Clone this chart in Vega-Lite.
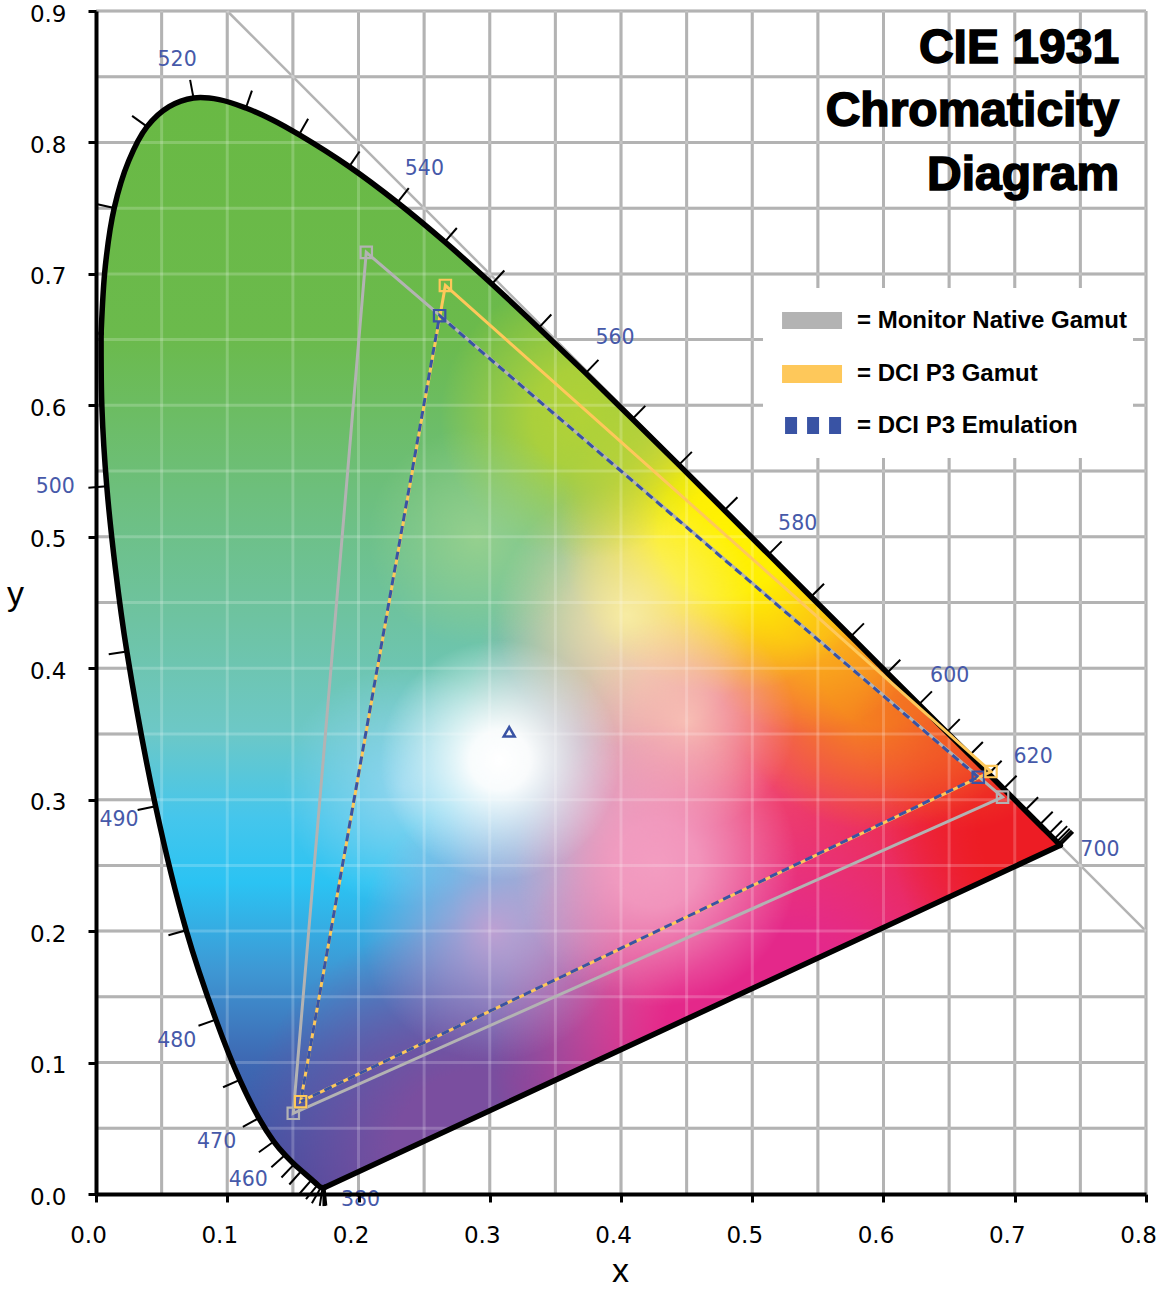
{
"$schema": "https://vega.github.io/schema/vega-lite/v6.json",
"autosize": {"type": "none"},
"padding": {"left": 96, "top": 11, "right": 21, "bottom": 95},
"width": 1050,
"height": 1183,
"background": "white",
"config": {"view": {"stroke": null}, "font": "Liberation Sans"},
"datasets": {
"gx": [{"g":0.05},{"g":0.1},{"g":0.15},{"g":0.2},{"g":0.25},{"g":0.3},{"g":0.35},{"g":0.4},{"g":0.45},{"g":0.5},{"g":0.55},{"g":0.6},{"g":0.65},{"g":0.7},{"g":0.75},{"g":0.8}],
"gy": [{"g":0.05},{"g":0.1},{"g":0.15},{"g":0.2},{"g":0.25},{"g":0.3},{"g":0.35},{"g":0.4},{"g":0.45},{"g":0.5},{"g":0.55},{"g":0.6},{"g":0.65},{"g":0.7},{"g":0.75},{"g":0.8},{"g":0.85},{"g":0.9}],
"locus": [
{"wl":380,"x":0.1741,"y":0.0050},{"wl":390,"x":0.1738,"y":0.0049},{"wl":400,"x":0.1733,"y":0.0048},{"wl":410,"x":0.1726,"y":0.0048},
{"wl":420,"x":0.1714,"y":0.0051},{"wl":430,"x":0.1689,"y":0.0069},{"wl":440,"x":0.1644,"y":0.0109},{"wl":450,"x":0.1566,"y":0.0177},
{"wl":455,"x":0.1510,"y":0.0227},{"wl":460,"x":0.1440,"y":0.0297},{"wl":465,"x":0.1355,"y":0.0399},{"wl":470,"x":0.1241,"y":0.0578},
{"wl":475,"x":0.1096,"y":0.0868},{"wl":480,"x":0.0913,"y":0.1327},{"wl":485,"x":0.0687,"y":0.2007},{"wl":490,"x":0.0454,"y":0.2950},
{"wl":495,"x":0.0235,"y":0.4127},{"wl":497.5,"x":0.0148,"y":0.4756},{"wl":500,"x":0.0082,"y":0.5384},{"wl":502.5,"x":0.0045,"y":0.5985},
{"wl":505,"x":0.0039,"y":0.6548},{"wl":507.5,"x":0.0071,"y":0.7059},{"wl":510,"x":0.0139,"y":0.7502},{"wl":512.5,"x":0.0248,"y":0.7857},
{"wl":515,"x":0.0389,"y":0.8120},{"wl":517.5,"x":0.0557,"y":0.8272},{"wl":520,"x":0.0743,"y":0.8338},{"wl":522.5,"x":0.0939,"y":0.8326},
{"wl":525,"x":0.1142,"y":0.8262},{"wl":527.5,"x":0.1346,"y":0.8171},{"wl":530,"x":0.1547,"y":0.8059},{"wl":535,"x":0.1929,"y":0.7816},
{"wl":540,"x":0.2296,"y":0.7543},{"wl":545,"x":0.2658,"y":0.7243},{"wl":550,"x":0.3016,"y":0.6923},{"wl":555,"x":0.3373,"y":0.6589},
{"wl":560,"x":0.3731,"y":0.6245},{"wl":565,"x":0.4087,"y":0.5896},{"wl":570,"x":0.4441,"y":0.5547},{"wl":575,"x":0.4788,"y":0.5202},
{"wl":580,"x":0.5125,"y":0.4866},{"wl":585,"x":0.5448,"y":0.4544},{"wl":590,"x":0.5752,"y":0.4242},{"wl":595,"x":0.6029,"y":0.3965},
{"wl":600,"x":0.6270,"y":0.3725},{"wl":605,"x":0.6482,"y":0.3514},{"wl":610,"x":0.6658,"y":0.3340},{"wl":615,"x":0.6801,"y":0.3197},
{"wl":620,"x":0.6915,"y":0.3083},{"wl":625,"x":0.7006,"y":0.2993},{"wl":630,"x":0.7079,"y":0.2920},{"wl":635,"x":0.7140,"y":0.2859},
{"wl":640,"x":0.7190,"y":0.2809},{"wl":650,"x":0.7260,"y":0.2740},{"wl":660,"x":0.7300,"y":0.2700},{"wl":670,"x":0.7320,"y":0.2680},
{"wl":680,"x":0.7334,"y":0.2666},{"wl":690,"x":0.7344,"y":0.2656},{"wl":700,"x":0.7347,"y":0.2653}],
"ticks": [
{"x":0.1741,"y":0.0050,"x2":0.1755,"y2":-0.0089},{"x":0.1738,"y":0.0049,"x2":0.1745,"y2":-0.0091},{"x":0.1733,"y":0.0048,"x2":0.1733,"y2":-0.0092},
{"x":0.1726,"y":0.0048,"x2":0.1705,"y2":-0.0091},{"x":0.1714,"y":0.0051,"x2":0.1645,"y2":-0.0071},{"x":0.1689,"y":0.0069,"x2":0.1600,"y2":-0.0039},
{"x":0.1644,"y":0.0109,"x2":0.1552,"y2":0.0004},{"x":0.1566,"y":0.0177,"x2":0.1473,"y2":0.0072},{"x":0.1510,"y":0.0227,"x2":0.1413,"y2":0.0126},
{"x":0.1440,"y":0.0297,"x2":0.1336,"y2":0.0203},{"x":0.1355,"y":0.0399,"x2":0.1241,"y2":0.0318},{"x":0.1241,"y":0.0578,"x2":0.1119,"y2":0.0510},
{"x":0.1096,"y":0.0868,"x2":0.0968,"y2":0.0812},{"x":0.0913,"y":0.1327,"x2":0.0781,"y2":0.1280},{"x":0.0687,"y":0.2007,"x2":0.0552,"y2":0.1969},
{"x":0.0454,"y":0.2950,"x2":0.0317,"y2":0.2921},{"x":0.0235,"y":0.4127,"x2":0.0097,"y2":0.4106},{"x":0.0082,"y":0.5384,"x2":-0.0058,"y2":0.5373},
{"x":0.0139,"y":0.7502,"x2":0.0002,"y2":0.7532},{"x":0.0389,"y":0.8120,"x2":0.0275,"y2":0.8202},
{"x":0.0743,"y":0.8338,"x2":0.0717,"y2":0.8476},{"x":0.1142,"y":0.8262,"x2":0.1188,"y2":0.8394},{"x":0.1547,"y":0.8059,"x2":0.1616,"y2":0.8181},
{"x":0.1929,"y":0.7816,"x2":0.2008,"y2":0.7931},{"x":0.2296,"y":0.7543,"x2":0.2383,"y2":0.7653},{"x":0.2658,"y":0.7243,"x2":0.2749,"y2":0.7349},
{"x":0.3016,"y":0.6923,"x2":0.3111,"y2":0.7026},{"x":0.3373,"y":0.6589,"x2":0.3469,"y2":0.6691},{"x":0.3731,"y":0.6245,"x2":0.3828,"y2":0.6346},
{"x":0.4087,"y":0.5896,"x2":0.4185,"y2":0.5996},{"x":0.4441,"y":0.5547,"x2":0.4540,"y2":0.5646},{"x":0.4788,"y":0.5202,"x2":0.4887,"y2":0.5301},
{"x":0.5125,"y":0.4866,"x2":0.5224,"y2":0.4965},{"x":0.5448,"y":0.4544,"x2":0.5547,"y2":0.4643},{"x":0.5752,"y":0.4242,"x2":0.5851,"y2":0.4341},
{"x":0.6029,"y":0.3965,"x2":0.6128,"y2":0.4064},{"x":0.6270,"y":0.3725,"x2":0.6369,"y2":0.3824},{"x":0.6482,"y":0.3514,"x2":0.6581,"y2":0.3613},
{"x":0.6658,"y":0.3340,"x2":0.6757,"y2":0.3439},{"x":0.6801,"y":0.3197,"x2":0.6900,"y2":0.3296},{"x":0.6915,"y":0.3083,"x2":0.7014,"y2":0.3182},
{"x":0.7079,"y":0.2920,"x2":0.7178,"y2":0.3019},{"x":0.7190,"y":0.2809,"x2":0.7289,"y2":0.2908},{"x":0.7260,"y":0.2740,"x2":0.7359,"y2":0.2839},
{"x":0.7300,"y":0.2700,"x2":0.7399,"y2":0.2799},{"x":0.7320,"y":0.2680,"x2":0.7419,"y2":0.2779},{"x":0.7334,"y":0.2666,"x2":0.7433,"y2":0.2765},
{"x":0.7344,"y":0.2656,"x2":0.7443,"y2":0.2755},{"x":0.7347,"y":0.2653,"x2":0.7446,"y2":0.2752}],
"wlLabels": [
{"t":"380","x":0.2015,"y":-0.0049},{"t":"460","x":0.1160,"y":0.0110},{"t":"470","x":0.0919,"y":0.0392},{"t":"480","x":0.0615,"y":0.1166},
{"t":"490","x":0.0176,"y":0.2848},{"t":"500","x":-0.0310,"y":0.5380},{"t":"520","x":0.0618,"y":0.8624},{"t":"540","x":0.2502,"y":0.7801},
{"t":"560","x":0.3954,"y":0.6514},{"t":"580","x":0.5346,"y":0.5099},{"t":"600","x":0.6504,"y":0.3944},{"t":"620","x":0.7140,"y":0.3322},
{"t":"700","x":0.7649,"y":0.2614}],
"gamut": [
{"series":"Monitor Native Gamut","v":1,"x":0.6907,"y":0.3019},{"series":"Monitor Native Gamut","v":2,"x":0.2059,"y":0.7164},{"series":"Monitor Native Gamut","v":3,"x":0.1503,"y":0.0614},
{"series":"DCI P3 Gamut","v":1,"x":0.6819,"y":0.3214},{"series":"DCI P3 Gamut","v":2,"x":0.2662,"y":0.6912},{"series":"DCI P3 Gamut","v":3,"x":0.1559,"y":0.0702},
{"series":"DCI P3 Emulation","v":1,"x":0.6722,"y":0.3171},{"series":"DCI P3 Emulation","v":2,"x":0.2618,"y":0.6682},{"series":"DCI P3 Emulation","v":3,"x":0.1559,"y":0.0702}],
"whitePoint": [{"x":0.3148,"y":0.3516}],
"diag": [{"x":0.1,"y":0.9,"x2":0.8,"y2":0.2}],
"one": [{}]
},
"layer": [
{"data":{"name":"gx"},"mark":{"type":"rule","color":"#a0a0a0","strokeWidth":3},
 "encoding":{"x":{"field":"g","type":"quantitative","scale":{"domain":[0,0.8],"nice":false,"zero":false}}}},
{"data":{"name":"gy"},"mark":{"type":"rule","color":"#a0a0a0","strokeWidth":3},
 "encoding":{"y":{"field":"g","type":"quantitative","scale":{"domain":[0,0.9],"nice":false,"zero":false}}}},
{"data":{"name":"diag"},"mark":{"type":"rule","color":"#b3b3b3","strokeWidth":2.5},
 "encoding":{"x":{"field":"x","type":"quantitative","scale":{"domain":[0,0.8],"nice":false,"zero":false}},
  "y":{"field":"y","type":"quantitative","scale":{"domain":[0,0.9],"nice":false,"zero":false}},
  "x2":{"field":"x2"},"y2":{"field":"y2"}}},
{"data":{"name":"locus"},
 "mark":{"type":"line","interpolate":"linear-closed","stroke":"transparent","strokeWidth":0,
  "fill":{"gradient":"linear","x1":0,"y1":0,"x2":0,"y2":1,"stops":[
   {"offset":0,"color":"#69b944"},{"offset":0.22,"color":"#6bba4c"},{"offset":0.36,"color":"#6dbf7c"},{"offset":0.48,"color":"#6ec3a2"},
   {"offset":0.58,"color":"#6dc8c6"},{"offset":0.66,"color":"#45c6ec"},{"offset":0.72,"color":"#2bc3f3"},{"offset":0.80,"color":"#3e98d4"},
   {"offset":0.88,"color":"#3e6ab4"},{"offset":1,"color":"#3b4a9c"}]}},
 "encoding":{
  "x":{"field":"x","type":"quantitative","scale":{"domain":[0,0.8],"nice":false,"zero":false},
   "axis":{"title":"x","values":[0,0.1,0.2,0.3,0.4,0.5,0.6,0.7,0.8],"format":".1f","grid":false,"domainColor":"black","domainWidth":4,
    "tickColor":"black","tickWidth":3,"tickSize":8,"labelFont":"DejaVu Sans","labelFontSize":23,"labelColor":"black","labelPadding":22,"labelOffset":-8,
    "labelFlush":false,"labelOverlap":false,"titleFont":"Liberation Sans","titleFontSize":34,"titleFontWeight":"normal","titleColor":"black",
    "titleX":524,"titleY":87,"titleBaseline":"alphabetic","zindex":1}},
  "y":{"field":"y","type":"quantitative","scale":{"domain":[0,0.9],"nice":false,"zero":false},
   "axis":{"title":"y","values":[0,0.1,0.2,0.3,0.4,0.5,0.6,0.7,0.8,0.9],"format":".1f","grid":false,"domainColor":"black","domainWidth":4,
    "tickColor":"black","tickWidth":3,"tickSize":8,"labelFont":"DejaVu Sans","labelFontSize":23,"labelColor":"black","labelPadding":22,
    "labelFlush":false,"labelOverlap":false,"labelOffset":3,"titleFont":"Liberation Sans","titleFontSize":34,"titleFontWeight":"normal","titleColor":"black",
    "titleAngle":0,"titleX":-81,"titleY":583,"titleAlign":"center","titleBaseline":"middle","zindex":1}},
  "order":{"field":"wl","type":"quantitative"}}},
{"data":{"name":"locus"},
 "mark":{"type":"line","interpolate":"linear-closed","stroke":"transparent","strokeWidth":0,
  "fill":{"gradient":"radial","x1":1,"y1":0.68,"r1":0,"x2":1,"y2":0.68,"r2":0.62,"stops":[
   {"offset":0,"color":"rgba(237,28,36,1)"},{"offset":0.3,"color":"rgba(238,40,64,1)"},{"offset":0.55,"color":"rgba(240,74,110,1)"},{"offset":0.75,"color":"rgba(242,138,168,0.85)"},{"offset":1,"color":"rgba(242,160,185,0)"}]}},
 "encoding":{"x":{"field":"x","type":"quantitative","scale":{"domain":[0,0.8],"nice":false,"zero":false}},
  "y":{"field":"y","type":"quantitative","scale":{"domain":[0,0.9],"nice":false,"zero":false}},"order":{"field":"wl","type":"quantitative"}}},
{"data":{"name":"locus"},
 "mark":{"type":"line","interpolate":"linear-closed","stroke":"transparent","strokeWidth":0,
  "fill":{"gradient":"radial","x1":0.405,"y1":0.97,"r1":0,"x2":0.405,"y2":0.97,"r2":0.22,"stops":[
   {"offset":0,"color":"rgba(122,78,159,1)"},{"offset":0.35,"color":"rgba(122,78,159,1)"},{"offset":1,"color":"rgba(122,78,159,0)"}]}},
 "encoding":{"x":{"field":"x","type":"quantitative","scale":{"domain":[0,0.8],"nice":false,"zero":false}},
  "y":{"field":"y","type":"quantitative","scale":{"domain":[0,0.9],"nice":false,"zero":false}},"order":{"field":"wl","type":"quantitative"}}},
{"data":{"name":"locus"},
 "mark":{"type":"line","interpolate":"linear-closed","stroke":"transparent","strokeWidth":0,
  "fill":{"gradient":"radial","x1":0.679,"y1":0.873,"r1":0,"x2":0.679,"y2":0.873,"r2":0.26,"stops":[
   {"offset":0,"color":"rgba(228,40,138,1)"},{"offset":0.4,"color":"rgba(228,40,138,1)"},{"offset":1,"color":"rgba(228,40,138,0)"}]}},
 "encoding":{"x":{"field":"x","type":"quantitative","scale":{"domain":[0,0.8],"nice":false,"zero":false}},
  "y":{"field":"y","type":"quantitative","scale":{"domain":[0,0.9],"nice":false,"zero":false}},"order":{"field":"wl","type":"quantitative"}}},
{"data":{"name":"locus"},
 "mark":{"type":"line","interpolate":"linear-closed","stroke":"transparent","strokeWidth":0,
  "fill":{"gradient":"radial","x1":0.9525,"y1":0.668,"r1":0,"x2":0.9525,"y2":0.668,"r2":0.17,"stops":[
   {"offset":0,"color":"rgba(237,28,36,1)"},{"offset":0.5,"color":"rgba(237,28,36,1)"},{"offset":1,"color":"rgba(237,28,36,0)"}]}},
 "encoding":{"x":{"field":"x","type":"quantitative","scale":{"domain":[0,0.8],"nice":false,"zero":false}},
  "y":{"field":"y","type":"quantitative","scale":{"domain":[0,0.9],"nice":false,"zero":false}},"order":{"field":"wl","type":"quantitative"}}},
{"data":{"name":"locus"},
 "mark":{"type":"line","interpolate":"linear-closed","stroke":"transparent","strokeWidth":0,
  "fill":{"gradient":"radial","x1":0.775,"y1":0.523,"r1":0,"x2":0.775,"y2":0.523,"r2":0.15,"stops":[
   {"offset":0,"color":"rgba(245,130,32,1)"},{"offset":0.35,"color":"rgba(245,130,32,1)"},{"offset":1,"color":"rgba(245,130,32,0)"}]}},
 "encoding":{"x":{"field":"x","type":"quantitative","scale":{"domain":[0,0.8],"nice":false,"zero":false}},
  "y":{"field":"y","type":"quantitative","scale":{"domain":[0,0.9],"nice":false,"zero":false}},"order":{"field":"wl","type":"quantitative"}}},
{"data":{"name":"locus"},
 "mark":{"type":"line","interpolate":"linear-closed","stroke":"transparent","strokeWidth":0,
  "fill":{"gradient":"radial","x1":0.85,"y1":0.572,"r1":0,"x2":0.85,"y2":0.572,"r2":0.1,"stops":[
   {"offset":0,"color":"rgba(241,90,36,0.9)"},{"offset":1,"color":"rgba(241,90,36,0)"}]}},
 "encoding":{"x":{"field":"x","type":"quantitative","scale":{"domain":[0,0.8],"nice":false,"zero":false}},
  "y":{"field":"y","type":"quantitative","scale":{"domain":[0,0.9],"nice":false,"zero":false}},"order":{"field":"wl","type":"quantitative"}}},
{"data":{"name":"locus"},
 "mark":{"type":"line","interpolate":"linear-closed","stroke":"transparent","strokeWidth":0,
  "fill":{"gradient":"radial","x1":0.706,"y1":0.463,"r1":0,"x2":0.706,"y2":0.463,"r2":0.12,"stops":[
   {"offset":0,"color":"rgba(251,179,26,1)"},{"offset":0.3,"color":"rgba(251,179,26,1)"},{"offset":1,"color":"rgba(251,179,26,0)"}]}},
 "encoding":{"x":{"field":"x","type":"quantitative","scale":{"domain":[0,0.8],"nice":false,"zero":false}},
  "y":{"field":"y","type":"quantitative","scale":{"domain":[0,0.9],"nice":false,"zero":false}},"order":{"field":"wl","type":"quantitative"}}},
{"data":{"name":"locus"},
 "mark":{"type":"line","interpolate":"linear-closed","stroke":"transparent","strokeWidth":0,
  "fill":{"gradient":"radial","x1":0.631,"y1":0.397,"r1":0,"x2":0.631,"y2":0.397,"r2":0.15,"stops":[
   {"offset":0,"color":"rgba(255,242,0,1)"},{"offset":0.4,"color":"rgba(255,242,0,0.95)"},{"offset":1,"color":"rgba(255,242,0,0)"}]}},
 "encoding":{"x":{"field":"x","type":"quantitative","scale":{"domain":[0,0.8],"nice":false,"zero":false}},
  "y":{"field":"y","type":"quantitative","scale":{"domain":[0,0.9],"nice":false,"zero":false}},"order":{"field":"wl","type":"quantitative"}}},
{"data":{"name":"locus"},
 "mark":{"type":"line","interpolate":"linear-closed","stroke":"transparent","strokeWidth":0,
  "fill":{"gradient":"radial","x1":0.542,"y1":0.475,"r1":0,"x2":0.542,"y2":0.475,"r2":0.12,"stops":[
   {"offset":0,"color":"rgba(251,241,168,0.9)"},{"offset":1,"color":"rgba(251,241,168,0)"}]}},
 "encoding":{"x":{"field":"x","type":"quantitative","scale":{"domain":[0,0.8],"nice":false,"zero":false}},
  "y":{"field":"y","type":"quantitative","scale":{"domain":[0,0.9],"nice":false,"zero":false}},"order":{"field":"wl","type":"quantitative"}}},
{"data":{"name":"locus"},
 "mark":{"type":"line","interpolate":"linear-closed","stroke":"transparent","strokeWidth":0,
  "fill":{"gradient":"radial","x1":0.597,"y1":0.572,"r1":0,"x2":0.597,"y2":0.572,"r2":0.1,"stops":[
   {"offset":0,"color":"rgba(250,200,185,0.85)"},{"offset":1,"color":"rgba(250,200,185,0)"}]}},
 "encoding":{"x":{"field":"x","type":"quantitative","scale":{"domain":[0,0.8],"nice":false,"zero":false}},
  "y":{"field":"y","type":"quantitative","scale":{"domain":[0,0.9],"nice":false,"zero":false}},"order":{"field":"wl","type":"quantitative"}}},
{"data":{"name":"locus"},
 "mark":{"type":"line","interpolate":"linear-closed","stroke":"transparent","strokeWidth":0,
  "fill":{"gradient":"radial","x1":0.501,"y1":0.294,"r1":0,"x2":0.501,"y2":0.294,"r2":0.13,"stops":[
   {"offset":0,"color":"rgba(181,211,52,0.95)"},{"offset":0.35,"color":"rgba(181,211,52,0.85)"},{"offset":1,"color":"rgba(181,211,52,0)"}]}},
 "encoding":{"x":{"field":"x","type":"quantitative","scale":{"domain":[0,0.8],"nice":false,"zero":false}},
  "y":{"field":"y","type":"quantitative","scale":{"domain":[0,0.9],"nice":false,"zero":false}},"order":{"field":"wl","type":"quantitative"}}},
{"data":{"name":"locus"},
 "mark":{"type":"line","interpolate":"linear-closed","stroke":"transparent","strokeWidth":0,
  "fill":{"gradient":"radial","x1":0.405,"y1":0.403,"r1":0,"x2":0.405,"y2":0.403,"r2":0.1,"stops":[
   {"offset":0,"color":"rgba(166,214,143,0.7)"},{"offset":1,"color":"rgba(166,214,143,0)"}]}},
 "encoding":{"x":{"field":"x","type":"quantitative","scale":{"domain":[0,0.8],"nice":false,"zero":false}},
  "y":{"field":"y","type":"quantitative","scale":{"domain":[0,0.9],"nice":false,"zero":false}},"order":{"field":"wl","type":"quantitative"}}},
{"data":{"name":"locus"},
 "mark":{"type":"line","interpolate":"linear-closed","stroke":"transparent","strokeWidth":0,
  "fill":{"gradient":"radial","x1":0.337,"y1":0.632,"r1":0,"x2":0.337,"y2":0.632,"r2":0.11,"stops":[
   {"offset":0,"color":"rgba(150,215,240,0.9)"},{"offset":1,"color":"rgba(150,215,240,0)"}]}},
 "encoding":{"x":{"field":"x","type":"quantitative","scale":{"domain":[0,0.8],"nice":false,"zero":false}},
  "y":{"field":"y","type":"quantitative","scale":{"domain":[0,0.9],"nice":false,"zero":false}},"order":{"field":"wl","type":"quantitative"}}},
{"data":{"name":"locus"},
 "mark":{"type":"line","interpolate":"linear-closed","stroke":"transparent","strokeWidth":0,
  "fill":{"gradient":"radial","x1":0.419,"y1":0.764,"r1":0,"x2":0.419,"y2":0.764,"r2":0.12,"stops":[
   {"offset":0,"color":"rgba(200,160,210,0.9)"},{"offset":1,"color":"rgba(200,160,210,0)"}]}},
 "encoding":{"x":{"field":"x","type":"quantitative","scale":{"domain":[0,0.8],"nice":false,"zero":false}},
  "y":{"field":"y","type":"quantitative","scale":{"domain":[0,0.9],"nice":false,"zero":false}},"order":{"field":"wl","type":"quantitative"}}},
{"data":{"name":"locus"},
 "mark":{"type":"line","interpolate":"linear-closed","stroke":"transparent","strokeWidth":0,
  "fill":{"gradient":"radial","x1":0.569,"y1":0.704,"r1":0,"x2":0.569,"y2":0.704,"r2":0.13,"stops":[
   {"offset":0,"color":"rgba(244,160,195,0.95)"},{"offset":0.3,"color":"rgba(244,160,195,0.85)"},{"offset":1,"color":"rgba(244,160,195,0)"}]}},
 "encoding":{"x":{"field":"x","type":"quantitative","scale":{"domain":[0,0.8],"nice":false,"zero":false}},
  "y":{"field":"y","type":"quantitative","scale":{"domain":[0,0.9],"nice":false,"zero":false}},"order":{"field":"wl","type":"quantitative"}}},
{"data":{"name":"locus"},
 "mark":{"type":"line","interpolate":"linear-closed","stroke":"transparent","strokeWidth":0,
  "fill":{"gradient":"radial","x1":0.4257,"y1":0.6076,"r1":0,"x2":0.4257,"y2":0.6076,"r2":0.11,"stops":[
   {"offset":0,"color":"rgba(255,255,255,1)"},{"offset":0.25,"color":"rgba(255,255,255,0.95)"},{"offset":0.6,"color":"rgba(255,255,255,0.5)"},{"offset":1,"color":"rgba(255,255,255,0)"}]}},
 "encoding":{"x":{"field":"x","type":"quantitative","scale":{"domain":[0,0.8],"nice":false,"zero":false}},
  "y":{"field":"y","type":"quantitative","scale":{"domain":[0,0.9],"nice":false,"zero":false}},"order":{"field":"wl","type":"quantitative"}}},
{"data":{"name":"gx"},"mark":{"type":"rule","color":"white","opacity":0.2,"strokeWidth":3},
 "encoding":{"x":{"field":"g","type":"quantitative","scale":{"domain":[0,0.8],"nice":false,"zero":false}}}},
{"data":{"name":"gy"},"mark":{"type":"rule","color":"white","opacity":0.2,"strokeWidth":3},
 "encoding":{"y":{"field":"g","type":"quantitative","scale":{"domain":[0,0.9],"nice":false,"zero":false}}}},
{"data":{"name":"locus"},"transform":[{"filter":"datum.wl <= 505"}],
 "mark":{"type":"line","interpolate":"catmull-rom","color":"black","strokeWidth":5.5,"strokeCap":"round"},
 "encoding":{"x":{"field":"x","type":"quantitative","scale":{"domain":[0,0.8],"nice":false,"zero":false}},
  "y":{"field":"y","type":"quantitative","scale":{"domain":[0,0.9],"nice":false,"zero":false}}}},
{"data":{"name":"locus"},"transform":[{"filter":"datum.wl >= 505"}],
 "mark":{"type":"line","interpolate":"catmull-rom","color":"black","strokeWidth":5.5,"strokeCap":"round"},
 "encoding":{"x":{"field":"x","type":"quantitative","scale":{"domain":[0,0.8],"nice":false,"zero":false}},
  "y":{"field":"y","type":"quantitative","scale":{"domain":[0,0.9],"nice":false,"zero":false}}}},
{"data":{"name":"locus"},"transform":[{"filter":"datum.wl == 380 || datum.wl == 700"}],
 "mark":{"type":"line","interpolate":"linear","color":"black","strokeWidth":5.5,"strokeCap":"round"},
 "encoding":{"x":{"field":"x","type":"quantitative","scale":{"domain":[0,0.8],"nice":false,"zero":false}},
  "y":{"field":"y","type":"quantitative","scale":{"domain":[0,0.9],"nice":false,"zero":false}}}},
{"data":{"name":"ticks"},"mark":{"type":"rule","color":"black","strokeWidth":2},
 "encoding":{"x":{"field":"x","type":"quantitative","scale":{"domain":[0,0.8],"nice":false,"zero":false}},
  "y":{"field":"y","type":"quantitative","scale":{"domain":[0,0.9],"nice":false,"zero":false}},
  "x2":{"field":"x2"},"y2":{"field":"y2"}}},
{"data":{"name":"wlLabels"},"mark":{"type":"text","font":"DejaVu Sans","fontSize":20.5,"color":"#4659a9","align":"center","baseline":"middle"},
 "encoding":{"x":{"field":"x","type":"quantitative","scale":{"domain":[0,0.8],"nice":false,"zero":false}},
  "y":{"field":"y","type":"quantitative","scale":{"domain":[0,0.9],"nice":false,"zero":false}},
  "text":{"field":"t"}}},
{"data":{"name":"gamut"},"transform":[{"filter":"datum.series == 'Monitor Native Gamut'"}],
 "mark":{"type":"line","interpolate":"linear-closed","strokeWidth":3,"color":"#b3b3b3"},
 "encoding":{"x":{"field":"x","type":"quantitative","scale":{"domain":[0,0.8],"nice":false,"zero":false}},
  "y":{"field":"y","type":"quantitative","scale":{"domain":[0,0.9],"nice":false,"zero":false}},"order":{"field":"v","type":"quantitative"}}},
{"data":{"name":"gamut"},"transform":[{"filter":"datum.series == 'DCI P3 Gamut'"}],
 "mark":{"type":"line","interpolate":"linear-closed","strokeWidth":3,"color":"#fec85a"},
 "encoding":{"x":{"field":"x","type":"quantitative","scale":{"domain":[0,0.8],"nice":false,"zero":false}},
  "y":{"field":"y","type":"quantitative","scale":{"domain":[0,0.9],"nice":false,"zero":false}},"order":{"field":"v","type":"quantitative"}}},
{"data":{"name":"gamut"},"transform":[{"filter":"datum.series == 'DCI P3 Emulation'"}],
 "mark":{"type":"line","interpolate":"linear-closed","strokeWidth":3,"color":"#3953a4","strokeDash":[8,5]},
 "encoding":{"x":{"field":"x","type":"quantitative","scale":{"domain":[0,0.8],"nice":false,"zero":false}},
  "y":{"field":"y","type":"quantitative","scale":{"domain":[0,0.9],"nice":false,"zero":false}},"order":{"field":"v","type":"quantitative"}}},
{"data":{"name":"gamut"},"transform":[{"filter":"datum.series == 'Monitor Native Gamut'"}],
 "mark":{"type":"point","shape":"square","filled":false,"size":130,"strokeWidth":2.2,"color":"#b3b3b3","opacity":1},
 "encoding":{"x":{"field":"x","type":"quantitative","scale":{"domain":[0,0.8],"nice":false,"zero":false}},
  "y":{"field":"y","type":"quantitative","scale":{"domain":[0,0.9],"nice":false,"zero":false}}}},
{"data":{"name":"gamut"},"transform":[{"filter":"datum.series == 'DCI P3 Emulation'"}],
 "mark":{"type":"point","shape":"square","filled":false,"size":130,"strokeWidth":2.2,"color":"#3953a4","opacity":1},
 "encoding":{"x":{"field":"x","type":"quantitative","scale":{"domain":[0,0.8],"nice":false,"zero":false}},
  "y":{"field":"y","type":"quantitative","scale":{"domain":[0,0.9],"nice":false,"zero":false}}}},
{"data":{"name":"gamut"},"transform":[{"filter":"datum.series == 'DCI P3 Gamut'"}],
 "mark":{"type":"point","shape":"square","filled":false,"size":130,"strokeWidth":2.2,"color":"#fec85a","opacity":1},
 "encoding":{"x":{"field":"x","type":"quantitative","scale":{"domain":[0,0.8],"nice":false,"zero":false}},
  "y":{"field":"y","type":"quantitative","scale":{"domain":[0,0.9],"nice":false,"zero":false}}}},
{"data":{"name":"whitePoint"},
 "mark":{"type":"point","shape":"triangle-up","filled":false,"size":120,"strokeWidth":2.5,"color":"#3953a4","opacity":1},
 "encoding":{"x":{"field":"x","type":"quantitative","scale":{"domain":[0,0.8],"nice":false,"zero":false}},
  "y":{"field":"y","type":"quantitative","scale":{"domain":[0,0.9],"nice":false,"zero":false}}}},
{"data":{"name":"one"},"mark":{"type":"rect","color":"white"},
 "encoding":{"x":{"datum":0.5082,"type":"quantitative","scale":{"domain":[0,0.8],"nice":false,"zero":false}},"x2":{"datum":0.7901},
  "y":{"datum":0.5599,"type":"quantitative","scale":{"domain":[0,0.9],"nice":false,"zero":false}},"y2":{"datum":0.6893}}},
{"data":{"name":"one"},"mark":{"type":"rect","color":"#b3b3b3"},
 "encoding":{"x":{"datum":0.5227,"type":"quantitative","scale":{"domain":[0,0.8],"nice":false,"zero":false}},"x2":{"datum":0.5684},
  "y":{"datum":0.6581,"type":"quantitative","scale":{"domain":[0,0.9],"nice":false,"zero":false}},"y2":{"datum":0.6710}}},
{"data":{"name":"one"},"mark":{"type":"rect","color":"#fec85a"},
 "encoding":{"x":{"datum":0.5227,"type":"quantitative","scale":{"domain":[0,0.8],"nice":false,"zero":false}},"x2":{"datum":0.5684},
  "y":{"datum":0.6170,"type":"quantitative","scale":{"domain":[0,0.9],"nice":false,"zero":false}},"y2":{"datum":0.6307}}},
{"data":{"name":"one"},"mark":{"type":"rule","color":"#3953a4","strokeWidth":17,"strokeDash":[12,10],"strokeCap":"butt"},
 "encoding":{"x":{"datum":0.5250,"type":"quantitative","scale":{"domain":[0,0.8],"nice":false,"zero":false}},"x2":{"datum":0.5684},
  "y":{"datum":0.5846,"type":"quantitative","scale":{"domain":[0,0.9],"nice":false,"zero":false}}}},
{"data":{"name":"one"},"mark":{"type":"text","text":"= Monitor Native Gamut","font":"Liberation Sans","fontSize":24,"fontWeight":"bold","color":"black","align":"left","baseline":"middle"},
 "encoding":{"x":{"datum":0.5798,"type":"quantitative","scale":{"domain":[0,0.8],"nice":false,"zero":false}},
  "y":{"datum":0.6645,"type":"quantitative","scale":{"domain":[0,0.9],"nice":false,"zero":false}}}},
{"data":{"name":"one"},"mark":{"type":"text","text":"= DCI P3 Gamut","font":"Liberation Sans","fontSize":24,"fontWeight":"bold","color":"black","align":"left","baseline":"middle"},
 "encoding":{"x":{"datum":0.5798,"type":"quantitative","scale":{"domain":[0,0.8],"nice":false,"zero":false}},
  "y":{"datum":0.6238,"type":"quantitative","scale":{"domain":[0,0.9],"nice":false,"zero":false}}}},
{"data":{"name":"one"},"mark":{"type":"text","text":"= DCI P3 Emulation","font":"Liberation Sans","fontSize":24,"fontWeight":"bold","color":"black","align":"left","baseline":"middle"},
 "encoding":{"x":{"datum":0.5798,"type":"quantitative","scale":{"domain":[0,0.8],"nice":false,"zero":false}},
  "y":{"datum":0.5846,"type":"quantitative","scale":{"domain":[0,0.9],"nice":false,"zero":false}}}},
{"data":{"name":"one"},
 "mark":{"type":"text","text":["CIE 1931","Chromaticity","Diagram"],"font":"Liberation Sans","fontSize":48,"fontWeight":"bold","color":"black",
  "stroke":"black","strokeWidth":1.6,"align":"right","baseline":"alphabetic","lineHeight":63.5},
 "encoding":{"x":{"datum":0.7795,"type":"quantitative","scale":{"domain":[0,0.8],"nice":false,"zero":false}},
  "y":{"datum":0.8605,"type":"quantitative","scale":{"domain":[0,0.9],"nice":false,"zero":false}}}}
]
}
